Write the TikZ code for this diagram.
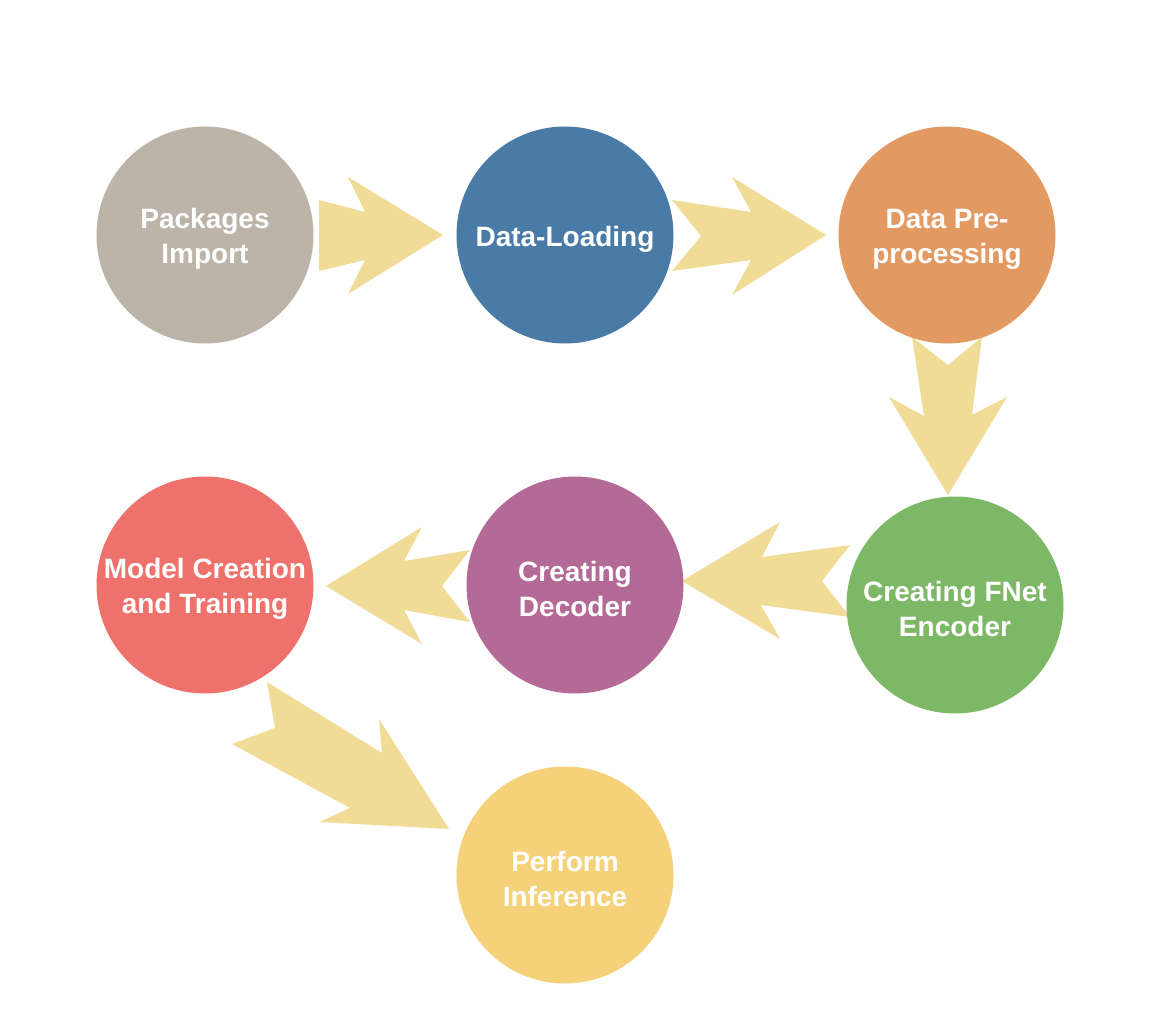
\documentclass[tikz,border=0pt]{standalone}
\usepackage{fontspec}
\setmainfont{Liberation Sans}
\definecolor{cgray}{HTML}{BDB4A9}
\definecolor{cblue}{HTML}{4A7BA7}
\definecolor{corange}{HTML}{E39A62}
\definecolor{cgreen}{HTML}{7DB867}
\definecolor{cpurple}{HTML}{B36A96}
\definecolor{cred}{HTML}{EE716B}
\definecolor{cyellow}{HTML}{F5D27A}
\definecolor{arrowc}{HTML}{F0DC96}
\begin{document}
\begin{tikzpicture}[x=1pt,y=-1pt,
  stage/.style={circle, minimum size=217pt, inner sep=0pt},
  stagetext/.style={text=white, align=center, inner sep=0pt, yshift=-4pt,
    font=\fontsize{28}{35}\selectfont\bfseries},
  bigarrow/.style={fill=arrowc, draw=none}]
\useasboundingbox (0,0) rectangle (1165,1035);
\fill[white] (0,0) rectangle (1165,1035);
% arrows
\fill[bigarrow] (319,200) -- (365,212) -- (348,177) -- (443,235) -- (348,294) -- (365,260) -- (319,271) -- cycle;
\fill[bigarrow] (672,200) -- (751,212) -- (732,177) -- (826,235) -- (732,295) -- (751,260) -- (672,271) -- (701,236) -- cycle;
\fill[bigarrow] (912,337) -- (948,365) -- (982,337) -- (972,415) -- (1007,397) -- (948,495) -- (889,397) -- (924,416) -- cycle;
\fill[bigarrow] (850,545) -- (822,581) -- (850,617) -- (761,605) -- (780,639) -- (682,581) -- (780,522) -- (762,557) -- cycle;
\fill[bigarrow] (470,550) -- (442,586) -- (470,622) -- (404,610) -- (422,644) -- (326,586) -- (422,527) -- (404,561) -- cycle;
\fill[bigarrow] (267,682) -- (382,753) -- (379,719) -- (449,829) -- (319,822) -- (350,808) -- (232,744) -- (275,728) -- cycle;
% stages
\node[stage, fill=cgray, label={[stagetext]center:{Packages\\Import}}] (pk) at (205,235) {};
\node[stage, fill=cblue, label={[stagetext]center:{Data-Loading}}] (dl) at (565,235) {};
\node[stage, fill=corange, label={[stagetext]center:{Data Pre-\\processing}}] (pp) at (947,235) {};
\node[stage, fill=cgreen, label={[stagetext]center:{Creating FNet\\Encoder}}] (en) at (955,605) {};
\node[stage, fill=cpurple, label={[stagetext]center:{Creating\\Decoder}}] (de) at (575,585) {};
\node[stage, fill=cred, label={[stagetext]center:{Model Creation\\and Training}}] (mc) at (205,585) {};
\node[stage, fill=cyellow, label={[stagetext]center:{Perform\\Inference}}] (pi) at (565,875) {};
\end{tikzpicture}
\end{document}
